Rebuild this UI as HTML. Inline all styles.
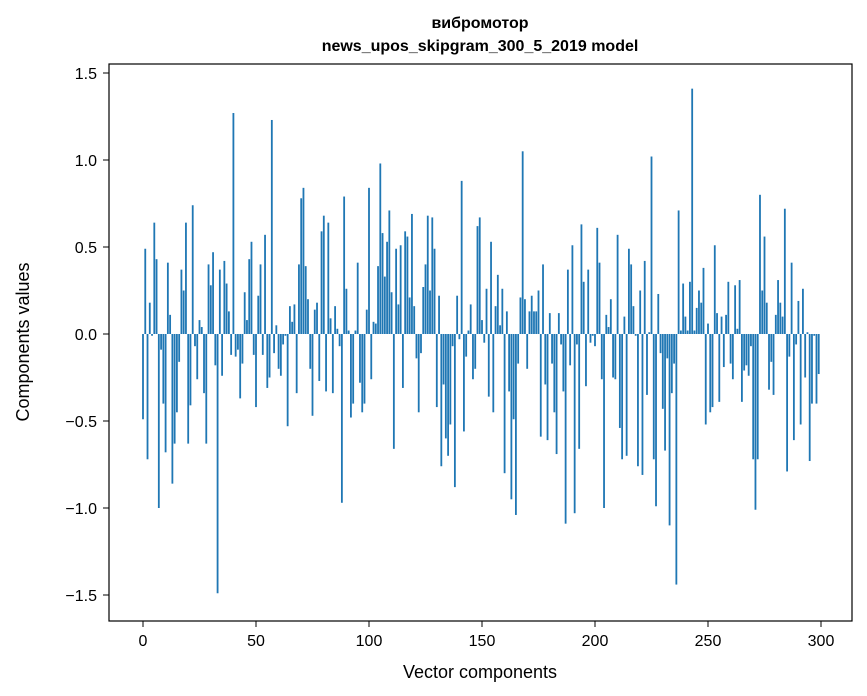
<!DOCTYPE html>
<html><head><meta charset="utf-8"><style>
body{margin:0;background:#fff;}
svg{display:block;font-family:"Liberation Sans","DejaVu Sans",sans-serif;}
</style></head><body>
<svg id="chart" width="867" height="696">
<text x="480" y="28" text-anchor="middle" font-size="16" font-weight="bold">вибромотор</text>
<text x="480" y="51" text-anchor="middle" font-size="16" font-weight="bold">news_upos_skipgram_300_5_2019 model</text>
<g id="bars"></g>
<rect x="109" y="64" width="743" height="557" fill="none" stroke="#000" stroke-width="1.2"/>
<g id="xticks"></g>
<g id="yticks"></g>
<text x="480" y="678" text-anchor="middle" font-size="18">Vector components</text>
<text transform="translate(29,342) rotate(-90)" text-anchor="middle" font-size="18">Components values</text>
</svg>
<script>
const values = [
-0.49,0.49,-0.72,0.18,-0.01,0.64,0.43,-1.0,-0.09,-0.40,
-0.68,0.41,0.11,-0.86,-0.63,-0.45,-0.16,0.37,0.25,0.64,
-0.63,-0.41,0.74,-0.07,-0.26,0.08,0.04,-0.34,-0.63,0.40,
0.28,0.47,-0.18,-1.49,0.37,-0.24,0.42,0.29,0.13,-0.12,
1.27,-0.13,-0.09,-0.37,-0.17,0.24,0.08,0.43,0.53,-0.12,
-0.42,0.22,0.40,-0.12,0.57,-0.31,-0.25,1.23,-0.11,0.05,
-0.20,-0.24,-0.06,-0.01,-0.53,0.16,0.07,0.17,-0.34,0.40,
0.78,0.84,0.39,0.20,-0.20,-0.47,0.14,0.18,-0.27,0.59,
0.68,-0.33,0.64,0.09,-0.34,0.16,0.03,-0.07,-0.97,0.79,
0.26,0.02,-0.48,-0.40,0.02,0.41,-0.28,-0.45,-0.40,0.14,
0.84,-0.26,0.07,0.06,0.39,0.98,0.58,0.33,0.53,0.71,
0.24,-0.66,0.49,0.17,0.51,-0.31,0.59,0.56,0.21,0.69,
0.16,-0.14,-0.45,-0.11,0.27,0.40,0.68,0.25,0.67,0.49,
-0.42,0.22,-0.76,-0.29,-0.60,-0.70,-0.52,-0.07,-0.88,0.22,
-0.03,0.88,-0.56,-0.13,0.02,0.17,-0.26,-0.20,0.62,0.67,
0.08,-0.05,0.26,-0.36,0.53,-0.45,0.16,0.34,0.05,0.26,
-0.80,0.13,-0.33,-0.95,-0.49,-1.04,-0.17,0.21,1.05,0.20,
-0.20,0.13,0.22,0.13,0.13,0.25,-0.59,0.40,-0.29,-0.61,
0.12,-0.17,-0.45,-0.69,0.12,-0.06,-0.33,-1.09,0.37,-0.18,
0.51,-1.03,-0.06,-0.66,0.63,0.30,-0.30,0.37,-0.05,-0.01,
-0.07,0.61,0.41,-0.26,-1.0,0.11,0.04,0.20,-0.25,-0.26,
0.57,-0.54,-0.72,0.10,-0.70,0.49,0.40,0.16,-0.01,-0.76,
0.25,-0.81,0.42,-0.35,0.01,1.02,-0.72,-0.99,0.23,-0.11,
-0.43,-0.67,-0.14,-1.10,-0.34,-0.17,-1.44,0.71,0.02,0.29,
0.10,0.02,0.30,1.41,0.02,0.15,0.25,0.18,0.38,-0.52,
0.06,-0.45,-0.42,0.51,0.12,-0.39,0.10,-0.19,0.11,0.30,
-0.17,-0.26,0.28,0.03,0.31,-0.39,-0.21,-0.18,-0.24,-0.07,
-0.72,-1.01,-0.72,0.80,0.25,0.56,0.18,-0.32,-0.16,-0.35,
0.11,0.31,0.18,0.10,0.72,-0.79,-0.13,0.41,-0.61,-0.06,
0.19,-0.52,0.26,-0.25,0.01,-0.73,-0.40,-0.01,-0.40,-0.23
];
const xTicks = [0,50,100,150,200,250,300];
const yTicks = [-1.5,-1.0,-0.5,0.0,0.5,1.0,1.5];
const yTickLabels = ["\u22121.5","\u22121.0","\u22120.5","0.0","0.5","1.0","1.5"];

const NS = "http://www.w3.org/2000/svg";
function xs(v){ return 143 + v*2.26; }
function ys(v){ return 334 - v*174; }
const bars = document.getElementById('bars');
values.forEach((v,i)=>{
  const r = document.createElementNS(NS,'rect');
  const y0 = ys(0), y1 = ys(v);
  r.setAttribute('x', xs(i-0.4));
  r.setAttribute('width', xs(i+0.4)-xs(i-0.4));
  r.setAttribute('y', Math.min(y0,y1));
  r.setAttribute('height', Math.max(Math.abs(y1-y0),0.3));
  r.setAttribute('fill', '#1f77b4');
  
  
  bars.appendChild(r);
});
const xg = document.getElementById('xticks');
xTicks.forEach(t=>{
  const l = document.createElementNS(NS,'line');
  l.setAttribute('x1', xs(t)); l.setAttribute('x2', xs(t));
  l.setAttribute('y1', 621); l.setAttribute('y2', 627);
  l.setAttribute('stroke', '#000');
  
  
  xg.appendChild(l);
  const tx = document.createElementNS(NS,'text');
  tx.setAttribute('x', xs(t)); tx.setAttribute('y', 646);
  tx.setAttribute('text-anchor', 'middle'); tx.setAttribute('font-size', '16');
  tx.textContent = t;
  
  
  xg.appendChild(tx);
});
const yg = document.getElementById('yticks');
yTicks.forEach((t,k)=>{
  const l = document.createElementNS(NS,'line');
  l.setAttribute('x1', 103); l.setAttribute('x2', 109);
  l.setAttribute('y1', ys(t)); l.setAttribute('y2', ys(t));
  l.setAttribute('stroke', '#000');
  
  
  yg.appendChild(l);
  const tx = document.createElementNS(NS,'text');
  tx.setAttribute('x', 97); tx.setAttribute('y', ys(t)+6);
  tx.setAttribute('text-anchor', 'end'); tx.setAttribute('font-size', '16');
  tx.textContent = yTickLabels[k];
  
  
  yg.appendChild(tx);
});
</script>
</body></html>
